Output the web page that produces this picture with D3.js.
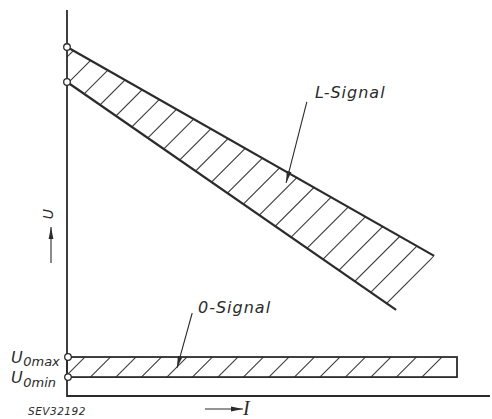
<!DOCTYPE html>
<html>
<head>
<meta charset="utf-8">
<script src="https://cdn.jsdelivr.net/npm/d3@7"></script>
<style>
  html, body { margin: 0; padding: 0; background: #fff; }
  svg { display: block; }
  text { font-family: "DejaVu Sans", sans-serif; fill: #2b2b2b; font-style: italic; }
</style>
</head>
<body>
<svg id="chart" width="492" height="419"></svg>
<script>
// Schematic U–I diagram: signal bands for L and 0 levels (relative units, 0–100)
const lSignalIEnd = [86.8, 77.8];          // I at end of upper / lower boundary
const lSignalUStart = [90.4, 81.35];       // U at I = 0 (upper, lower)
const lSignalUEnd = [36.3, 22.3];          // U at band end (upper, lower)
const oSignalU = [10.1, 4.9];              // U0max, U0min
const oSignalIEnd = 92.2;
const lLeader = [[56.7, 76.2], [51.8, 55.2]];  // label anchor -> arrow tip
const oLeader = [[29.6, 21.5], [26.0, 7.3]];
const bandLabels = ["L-Signal", "0-Signal"];
const levelLabels = [["U", "0max"], ["U", "0min"]];
const axisLabels = ["U", "I"];
const figureCode = "SEV32192";

const svg = d3.select("#chart");
const ink = "#2b2b2b";

const x = d3.scaleLinear().domain([0, 100]).range([67, 490]);
const y = d3.scaleLinear().domain([0, 100]).range([396, 10]);

const defs = svg.append("defs");
defs.append("marker")
  .attr("id", "head").attr("viewBox", "0 0 12 6")
  .attr("refX", 12).attr("refY", 3)
  .attr("markerWidth", 12).attr("markerHeight", 6)
  .attr("markerUnits", "userSpaceOnUse").attr("orient", "auto")
  .append("path").attr("d", "M0,0.6 L12,3 L0,5.4 Z").attr("fill", ink);

// ---- L-signal band ----
const lTop0 = [x(0), y(lSignalUStart[0])], lTop1 = [x(lSignalIEnd[0]), y(lSignalUEnd[0])];
const lBot0 = [x(0), y(lSignalUStart[1])], lBot1 = [x(lSignalIEnd[1]), y(lSignalUEnd[1])];

defs.append("clipPath").attr("id", "lClip")
  .append("polygon").attr("points", [lTop0, lTop1, lBot1, lBot0].map(p => p.join(",")).join(" "));

// hatching at 45°, lines y = c - x, anchored at the band's upper end
function hatch(g, cMax, cMin, step) {
  const cs = [];
  for (let c = cMax; c > cMin; c -= step) cs.push(c);
  g.selectAll("line").data(cs).join("line")
    .attr("x1", c => c - 450).attr("y1", 450)
    .attr("x2", c => c).attr("y2", 0)
    .attr("stroke", "#3a3a3a").attr("stroke-width", 1.1);
}

hatch(svg.append("g").attr("clip-path", "url(#lClip)"),
      lTop1[0] + lTop1[1], lTop0[0] + lTop0[1], 26.95);

const line = d3.line();
svg.append("path").attr("d", line([lTop0, lTop1]))
  .attr("stroke", ink).attr("stroke-width", 2.2).attr("fill", "none");
svg.append("path").attr("d", line([lBot0, lBot1]))
  .attr("stroke", ink).attr("stroke-width", 2.2).attr("fill", "none");

// ---- 0-signal band ----
const oX0 = x(0), oX1 = x(oSignalIEnd), oY0 = y(oSignalU[0]), oY1 = y(oSignalU[1]);
defs.append("clipPath").attr("id", "oClip")
  .append("rect").attr("x", oX0).attr("y", oY0).attr("width", oX1 - oX0).attr("height", oY1 - oY0);
hatch(svg.append("g").attr("clip-path", "url(#oClip)"), 799, oX0 + oY0, 25.5);
svg.append("rect").attr("x", oX0).attr("y", oY0).attr("width", oX1 - oX0).attr("height", oY1 - oY0)
  .attr("fill", "none").attr("stroke", ink).attr("stroke-width", 1.8);

// ---- axes ----
svg.append("path").attr("d", line([[x(0), y(100)], [x(0), y(0)], [x(100), y(0)]]))
  .attr("stroke", ink).attr("stroke-width", 1.8).attr("fill", "none");

// open circles at the band limits on the U axis
const marks = [lSignalUStart[0], lSignalUStart[1], oSignalU[0], oSignalU[1]];
svg.selectAll("circle.lim").data(marks).join("circle")
  .attr("class", "lim")
  .attr("cx", (d, i) => x(0) + (i > 1 ? 1 : 0)).attr("cy", d => y(d)).attr("r", 3.3)
  .attr("fill", "#fff").attr("stroke", ink).attr("stroke-width", 1.3);

// ---- leaders and labels ----
[lLeader, oLeader].forEach(L => {
  svg.append("line")
    .attr("x1", x(L[0][0])).attr("y1", y(L[0][1]))
    .attr("x2", x(L[1][0])).attr("y2", y(L[1][1]))
    .attr("stroke", ink).attr("stroke-width", 1.1)
    .attr("marker-end", "url(#head)");
});

svg.append("text").attr("x", 315).attr("y", 98)
  .attr("font-size", 16).attr("letter-spacing", 1).text(bandLabels[0]);
svg.append("text").attr("x", 198).attr("y", 313)
  .attr("font-size", 16).attr("letter-spacing", 1).text(bandLabels[1]);

// level labels U0max / U0min
const levelBase = [[363, 366], [383, 387]];
levelLabels.forEach((lab, i) => {
  const t = svg.append("text").attr("x", 11).attr("y", levelBase[i][0]).attr("font-size", 16);
  t.append("tspan").text(lab[0]);
  t.append("tspan").attr("font-size", 13).attr("dx", 0.5)
    .attr("dy", levelBase[i][1] - levelBase[i][0]).text(lab[1]);
});

// U axis label with upward arrow
svg.append("text").attr("transform", "translate(53,214) rotate(-90)")
  .attr("text-anchor", "middle").attr("font-size", 14).attr("font-style", "normal")
  .text(axisLabels[0]);
svg.append("line").attr("x1", 51).attr("y1", 263).attr("x2", 51).attr("y2", 227)
  .attr("stroke", ink).attr("stroke-width", 1.1).attr("marker-end", "url(#head)");

// I axis label with rightward arrow
svg.append("line").attr("x1", 205).attr("y1", 409).attr("x2", 243).attr("y2", 409)
  .attr("stroke", ink).attr("stroke-width", 1.1).attr("marker-end", "url(#head)");
svg.append("text").attr("x", 243).attr("y", 415)
  .style("font-family", "'Liberation Serif', serif").attr("font-size", 20).text(axisLabels[1]);

svg.append("text").attr("x", 28).attr("y", 415)
  .attr("font-size", 10.5).attr("letter-spacing", 0.5).attr("fill", "#444").text(figureCode);
</script>
</body>
</html>
